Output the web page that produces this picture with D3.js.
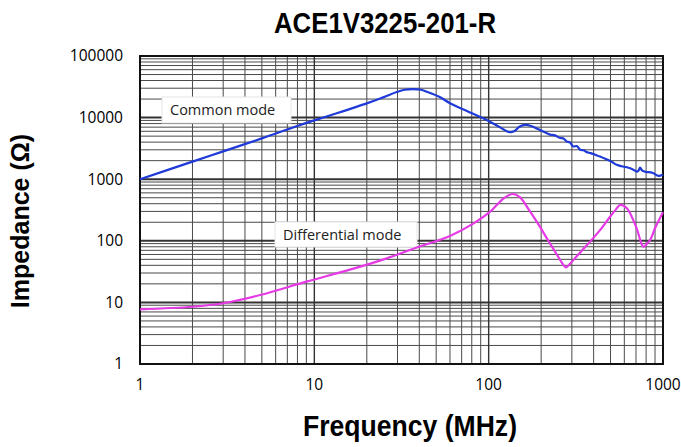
<!DOCTYPE html>
<html>
<head>
<meta charset="utf-8">
<script src="https://cdn.jsdelivr.net/npm/d3@7"></script>
<style>
  body { margin: 0; background: #fff; }
  svg { display: block; }
</style>
</head>
<body>
<svg id="chart" width="681" height="447"></svg>
<script>
// frequency (MHz) / impedance (ohm)
const freqCommon = [1, 2, 3, 5, 8.3, 12, 20, 25, 29.7, 33, 36.9, 41, 44.1, 52, 60, 75, 93, 110, 122, 130, 140, 150, 162, 175, 190, 205, 225, 240, 255, 270, 280, 292, 306, 320, 335, 350, 365, 385, 410, 435, 470, 510, 543, 580, 620, 676, 707, 725, 739, 760, 800, 850, 882, 942, 1000];
const zCommon = [1000, 1930, 2830, 4600, 7590, 10600, 17000, 21500, 26000, 28300, 29000, 28300, 26300, 21800, 17100, 12800, 9740, 7600, 6400, 5850, 6000, 7100, 7600, 7300, 6600, 5950, 5300, 5150, 4700, 4550, 4100, 3950, 3400, 3450, 3000, 2950, 2750, 2650, 2480, 2330, 2120, 1900, 1710, 1620, 1560, 1430, 1330, 1390, 1540, 1380, 1310, 1290, 1250, 1130, 1190];

const freqDiff = [1, 2, 3, 4.9, 9, 16, 25, 38.7, 60, 82, 102, 122, 137, 151, 170, 197, 220, 246, 266, 278, 292, 320, 350, 382, 440, 497, 540, 568, 620, 700, 773, 810, 844, 900, 1000];
const zDiff = [7.7, 8.5, 9.7, 13.2, 21.7, 34, 50, 78, 120, 192, 297, 490, 575, 510, 320, 168, 100, 60, 42, 37, 42, 56, 74, 97, 155, 246, 330, 381, 337, 170, 80, 90, 103, 160, 290];

const xTicks = [1, 10, 100, 1000];
const yTicks = [1, 10, 100, 1000, 10000, 100000];

const svg = d3.select('#chart');
const margin = { left: 140, top: 56, right: 18, bottom: 83 };
const width = 681 - margin.left - margin.right;
const height = 447 - margin.top - margin.bottom;

const x = d3.scaleLog().domain([1, 1000]).range([0, width]);
const y = d3.scaleLog().domain([1, 100000]).range([height, 0]);

const g = svg.append('g').attr('transform', 'translate(' + margin.left + ',' + margin.top + ')');

// log grid: 1..9 in every decade
const minorX = [];
for (let d = 1; d < 1000; d *= 10) for (let k = 2; k <= 9; k++) minorX.push(d * k);
const minorY = [];
for (let d = 1; d < 100000; d *= 10) for (let k = 2; k <= 9; k++) minorY.push(d * k);

g.selectAll('.vgrid').data(minorX).enter().append('line')
  .attr('x1', d => x(d)).attr('x2', d => x(d))
  .attr('y1', 0).attr('y2', height)
  .attr('stroke', '#4a4a4a').attr('stroke-width', 1);
g.selectAll('.hgrid').data(minorY).enter().append('line')
  .attr('x1', 0).attr('x2', width)
  .attr('y1', d => y(d)).attr('y2', d => y(d))
  .attr('stroke', '#4a4a4a').attr('stroke-width', 1);
g.selectAll('.vmajor').data(xTicks).enter().append('line')
  .attr('x1', d => x(d)).attr('x2', d => x(d))
  .attr('y1', 0).attr('y2', height)
  .attr('stroke', '#333').attr('stroke-width', 1.4);
g.selectAll('.hmajor').data(yTicks).enter().append('line')
  .attr('x1', 0).attr('x2', width)
  .attr('y1', d => y(d)).attr('y2', d => y(d))
  .attr('stroke', '#333').attr('stroke-width', 2);

// frame
g.append('rect').attr('width', width).attr('height', height)
  .attr('fill', 'none').attr('stroke', '#111').attr('stroke-width', 2);

// tick labels
g.selectAll('.ylab').data(yTicks).enter().append('text')
  .attr('x', -17).attr('y', d => y(d)).attr('dy', '0.35em')
  .attr('text-anchor', 'end')
  .style('font-family', '"Open Sans", sans-serif').style('font-size', '15.5px')
  .text(d => d);
g.selectAll('.xlab').data(xTicks).enter().append('text')
  .attr('x', d => x(d)).attr('y', height + 21).attr('dy', '0.35em')
  .attr('text-anchor', 'middle')
  .style('font-family', '"Open Sans", sans-serif').style('font-size', '15.5px')
  .text(d => d);

// curves
const line = d3.line().curve(d3.curveCatmullRom.alpha(0.5));
const cmPts = freqCommon.map((f, i) => [x(f), y(zCommon[i])]);
const dmPts = freqDiff.map((f, i) => [x(f), y(zDiff[i])]);

// series labels
function labelBox(bx, by, bw, bh, txt) {
  g.append('rect').attr('x', bx).attr('y', by).attr('width', bw).attr('height', bh)
    .attr('fill', '#fff').attr('stroke', '#e6e6e6').attr('stroke-width', 1);
  g.append('text').attr('x', bx + 8).attr('y', by + bh / 2).attr('dy', '0.35em')
    .style('font-family', '"Open Sans", sans-serif').style('font-size', '14.5px')
    .attr('fill', '#222').text(txt);
}
labelBox(22, 41, 129, 26, 'Common mode');
labelBox(135, 166, 142, 25, 'Differential mode');

g.append('path').attr('d', line(cmPts)).attr('fill', 'none')
  .attr('stroke', '#1f3ad8').attr('stroke-width', 2.2);
g.append('path').attr('d', line(dmPts)).attr('fill', 'none')
  .attr('stroke', '#e63ae6').attr('stroke-width', 2.2);

// titles (narrow bold look: squeeze Liberation Sans bold)
svg.append('text').attr('x', 385).attr('y', 33).attr('text-anchor', 'middle')
  .attr('textLength', 222).attr('lengthAdjust', 'spacingAndGlyphs')
  .style('font-family', '"Liberation Sans", Arial, sans-serif')
  .style('font-weight', 'bold').style('font-size', '29px')
  .text('ACE1V3225-201-R');
svg.append('text').attr('x', 410).attr('y', 436).attr('text-anchor', 'middle')
  .attr('textLength', 214).attr('lengthAdjust', 'spacingAndGlyphs')
  .style('font-family', '"Liberation Sans", Arial, sans-serif')
  .style('font-weight', 'bold').style('font-size', '29px')
  .text('Frequency (MHz)');
svg.append('text')
  .attr('transform', 'translate(29,221) rotate(-90)')
  .attr('text-anchor', 'middle')
  .style('font-family', '"Liberation Sans", Arial, sans-serif')
  .style('font-weight', 'bold').style('font-size', '25px')
  .text('Impedance (Ω)');
</script>
</body>
</html>
